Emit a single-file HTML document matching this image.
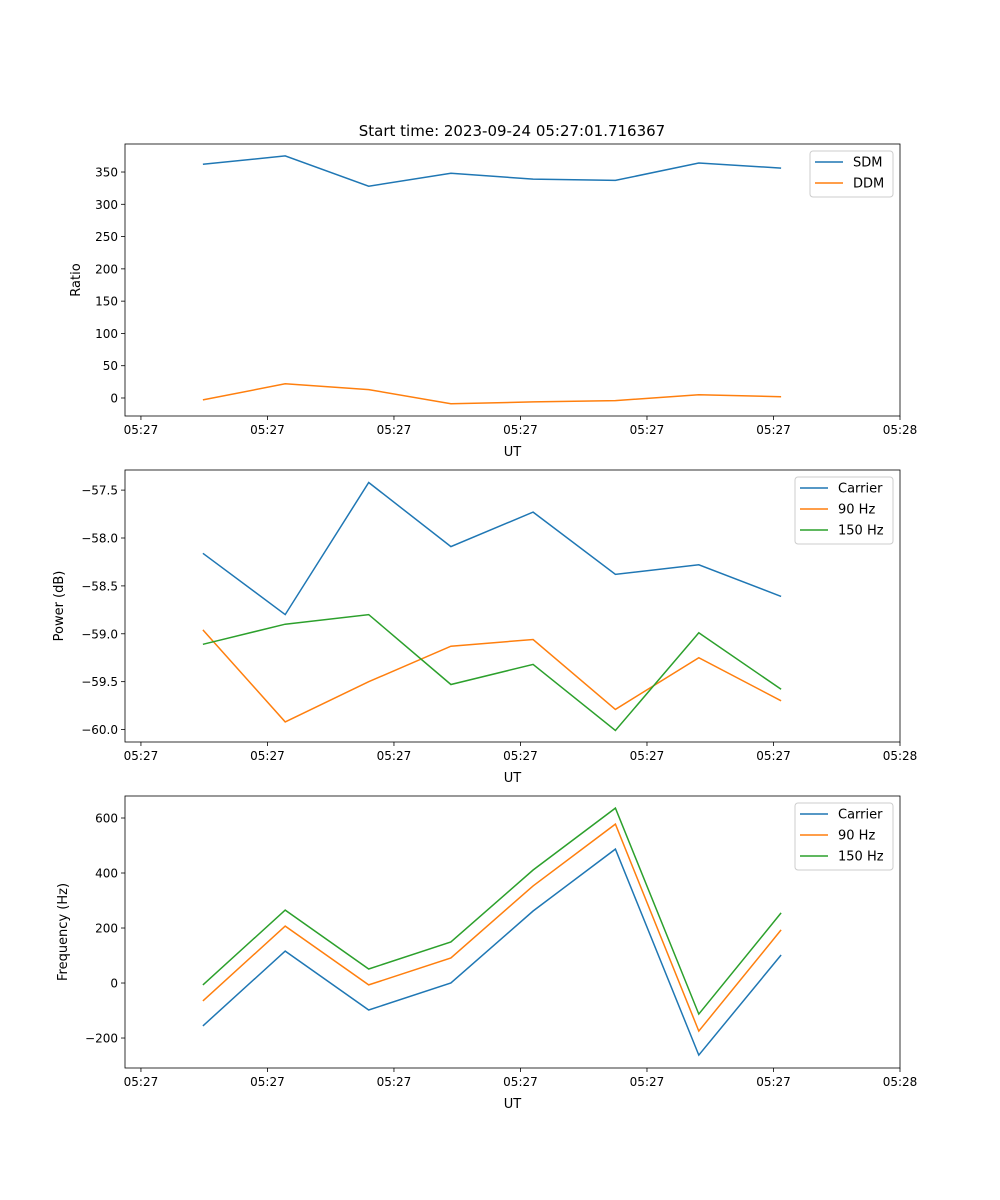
<!DOCTYPE html>
<html><head><meta charset="utf-8"><style>
body{margin:0;background:#fff;}
svg{display:block;font-family:"DejaVu Sans","Liberation Sans",sans-serif;}
</style></head><body>
<svg id="fig" width="1000" height="1200" xmlns="http://www.w3.org/2000/svg">
<rect width="1000" height="1200" fill="#fff"/>
<text x="512" y="136" text-anchor="middle" font-size="15">Start time: 2023-09-24 05:27:01.716367</text>
</svg>
<script>
const xSeconds = [4.9, 11.4, 18.0, 24.5, 31.0, 37.5, 44.1, 50.6];
const xTicks = [0, 10, 20, 30, 40, 50, 60];
const xTickLabels = ["05:27","05:27","05:27","05:27","05:27","05:27","05:28"];
const sdm = [362, 375, 328, 348, 339, 337, 364, 356];
const ddm = [-3, 22, 13, -9, -6, -4, 5, 2];
const powCarrier = [-58.16, -58.80, -57.42, -58.09, -57.73, -58.38, -58.28, -58.61];
const pow90 = [-58.96, -59.92, -59.50, -59.13, -59.06, -59.79, -59.25, -59.70];
const pow150 = [-59.11, -58.90, -58.80, -59.53, -59.32, -60.01, -58.99, -59.58];
const freqCarrier = [-156, 116, -98, 0, 262, 487, -262, 102];
const freq90 = [-65, 207, -7, 91, 353, 578, -175, 193];
const freq150 = [-7, 265, 51, 149, 411, 636, -113, 255];
const ratioTicks = [0, 50, 100, 150, 200, 250, 300, 350];
const powerTicks = [-57.5, -58.0, -58.5, -59.0, -59.5, -60.0];
const powerTickLabels = ["\u221257.5","\u221258.0","\u221258.5","\u221259.0","\u221259.5","\u221260.0"];
const freqTicks = [-200, 0, 200, 400, 600];
const freqTickLabels = ["\u2212200","0","200","400","600"];

const NS = "http://www.w3.org/2000/svg";
const svg = document.getElementById('fig');
const C = ["#1f77b4", "#ff7f0e", "#2ca02c"];
function mk(tag, attrs, parent) {
  const e = document.createElementNS(NS, tag);
  for (const k in attrs) e.setAttribute(k, attrs[k]);
  (parent || svg).appendChild(e);
  return e;
}
const L = 125, R = 900, XMIN = -1.26, XMAX = 60;
const xs = v => L + (v - XMIN) / (XMAX - XMIN) * (R - L);

function panel(name, top, bottom, ymin, ymax, yt, ytl, ylabel, series, names, leg) {
  const ys = v => bottom - (v - ymin) / (ymax - ymin) * (bottom - top);
  const g = mk('g', {});
  
  
  // ticks x
  xTicks.forEach((t, i) => {
    const x = xs(t);
    mk('line', {x1: x, x2: x, y1: bottom, y2: bottom + 4, stroke: '#000', 'stroke-width': 0.8}, g);
    const tx = mk('text', {x: x, y: bottom + 18, 'text-anchor': 'middle', 'font-size': 12}, g);
    tx.textContent = xTickLabels[i];
    
    
  });
  const xl = mk('text', {x: (L + R) / 2, y: bottom + 40, 'text-anchor': 'middle', 'font-size': 13}, g);
  xl.textContent = 'UT';
  
  
  yt.forEach((t, i) => {
    const y = ys(t);
    mk('line', {x1: L - 4, x2: L, y1: y, y2: y, stroke: '#000', 'stroke-width': 0.8}, g);
    const tx = mk('text', {x: L - 7, y: y + 4.5, 'text-anchor': 'end', 'font-size': 12}, g);
    tx.textContent = ytl[i];
    
    
  });
  const yl = mk('text', {x: 0, y: 0, 'text-anchor': 'middle', 'font-size': 13,
    transform: `translate(${ylabel[1]},${(top + bottom) / 2}) rotate(-90)`}, g);
  yl.textContent = ylabel[0];
  
  
  series.forEach((s, k) => {
    const p = s.map((v, i) => xs(xSeconds[i]).toFixed(1) + ',' + ys(v).toFixed(1)).join(' ');
    const pl = mk('polyline', {points: p, fill: 'none', stroke: C[k], 'stroke-width': 1.5}, g);
    
    
  });
  mk('rect', {x: L, y: top, width: R - L, height: bottom - top, fill: 'none', stroke: '#000', 'stroke-width': 0.8}, g);
  // legend
  const lg = mk('g', {}, g);
  
  
  mk('rect', {x: leg[0], y: top + 7, width: 893 - leg[0], height: names.length * 21 + 4, rx: 3, fill: '#fff', stroke: '#ccc', 'stroke-width': 1}, lg);
  names.forEach((n, k) => {
    const y = top + 18 + k * 21;
    mk('line', {x1: leg[0] + 5, x2: leg[0] + 33, y1: y, y2: y, stroke: C[k], 'stroke-width': 1.5}, lg);
    const t = mk('text', {x: leg[0] + 43, y: y + 4.5, 'font-size': 13}, lg);
    t.textContent = n;
    
    
  });
}
panel('ratio', 144, 416, -27.9, 393.4, ratioTicks, ratioTicks.map(String), ['Ratio', 80], [sdm, ddm], ['SDM', 'DDM'], [810]);
panel('power', 470, 742, -60.13, -57.29, powerTicks, powerTickLabels, ['Power (dB)', 63], [powCarrier, pow90, pow150], ['Carrier', '90 Hz', '150 Hz'], [795]);
panel('frequency', 796, 1068, -309, 680, freqTicks, freqTickLabels, ['Frequency (Hz)', 67], [freqCarrier, freq90, freq150], ['Carrier', '90 Hz', '150 Hz'], [795]);
</script>
</body></html>
